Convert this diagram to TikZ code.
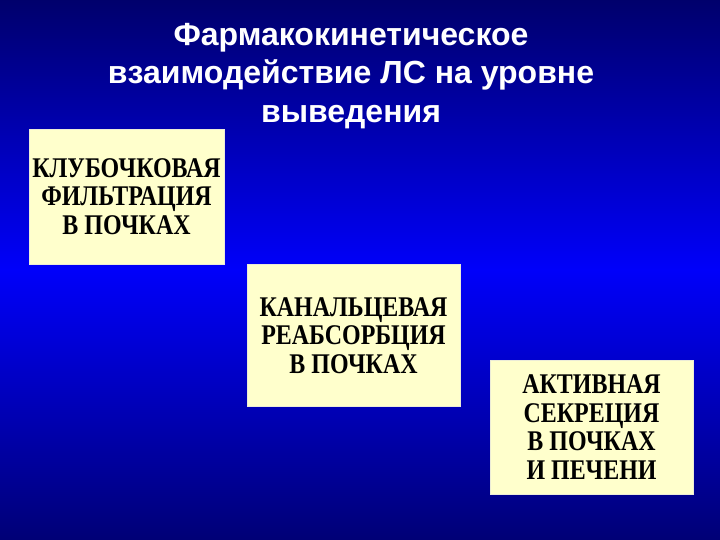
\documentclass[tikz,border=0pt]{standalone}
\usepackage{fontspec}
\setmainfont{Liberation Serif}
\setsansfont{Liberation Sans}
\newfontfamily\panefont[FakeStretch=0.84]{Liberation Serif}
\definecolor{bgtop}{RGB}{0,0,108}
\definecolor{bgmid}{RGB}{0,0,250}
\definecolor{bgbot}{RGB}{0,0,118}
\definecolor{boxfill}{RGB}{255,255,204}
\definecolor{boxedge}{RGB}{235,235,215}
\tikzset{
  pane/.style={draw=boxedge, line width=0.8pt, fill=boxfill, align=center, inner sep=0pt,
    font=\panefont\bfseries\fontsize{28.5}{28.5}\selectfont, text=black},
  heading/.style={align=center, text=white, font=\sffamily\bfseries\fontsize{32}{38.5}\selectfont}
}
\begin{document}
\begin{tikzpicture}[x=1pt,y=1pt]
\useasboundingbox (0,0) rectangle (720,540);
\shade[top color=bgtop, bottom color=bgmid] (0,270) rectangle (720,540);
\shade[top color=bgmid, bottom color=bgbot] (0,0) rectangle (720,270.5);
\node[heading] (title) at (351,464) {Фармакокинетическое\\взаимодействие ЛС на уровне\\выведения};
\node[pane, minimum width=195pt, minimum height=135pt] (b1) at (126.5,343.5) {КЛУБОЧКОВАЯ\\ФИЛЬТРАЦИЯ\\В ПОЧКАХ};
\node[pane, minimum width=213pt, minimum height=142pt] (b2) at (353.5,204.5) {КАНАЛЬЦЕВАЯ\\РЕАБСОРБЦИЯ\\В ПОЧКАХ};
\node[pane, minimum width=203pt, minimum height=134pt] (b3) at (591.5,113) {АКТИВНАЯ\\СЕКРЕЦИЯ\\В ПОЧКАХ\\И ПЕЧЕНИ};
\end{tikzpicture}
\end{document}
